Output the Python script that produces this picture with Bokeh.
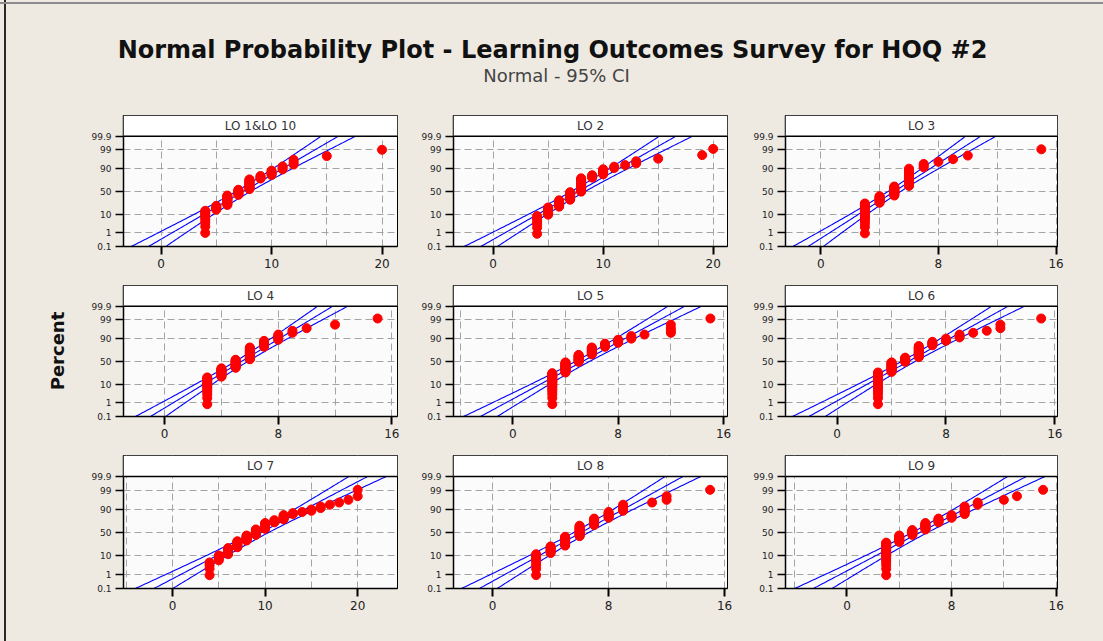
import math
from statistics import NormalDist

from bokeh.plotting import figure
from bokeh.layouts import column, row
from bokeh.models import FixedTicker, Label, Span, BoxAnnotation, Range1d
from bokeh.embed import file_html
from bokeh.resources import INLINE

# ---------------- data ----------------
main_title = "Normal Probability Plot - Learning Outcomes Survey for HOQ #2"
sub_title = "Normal - 95% CI"
y_title = "Percent"

panel_titles = ["LO 1&LO 10", "LO 2", "LO 3", "LO 4", "LO 5", "LO 6", "LO 7", "LO 8", "LO 9"]

lo1_10_values = [4, 5, 6, 7, 8, 9, 10, 11, 12, 15, 20]
lo1_10_counts = [10, 5, 14, 9, 15, 4, 5, 3, 3, 1, 1]
lo2_values = [4, 5, 6, 7, 8, 9, 10, 11, 12, 13, 15, 19, 20]
lo2_counts = [7, 8, 10, 14, 23, 4, 6, 2, 1, 2, 1, 1, 1]
lo3_values = [3, 4, 5, 6, 7, 8, 9, 10, 15]
lo3_counts = [19, 11, 16, 22, 3, 1, 1, 1, 1]
lo4_values = [3, 4, 5, 6, 7, 8, 9, 10, 12, 15]
lo4_counts = [16, 14, 16, 21, 8, 5, 2, 1, 1, 1]
lo5_values = [3, 4, 5, 6, 7, 8, 9, 10, 12, 15]
lo5_counts = [22, 19, 14, 12, 5, 4, 3, 1, 4, 1]
lo6_values = [3, 4, 5, 6, 7, 8, 9, 10, 11, 12, 15]
lo6_counts = [23, 18, 9, 19, 5, 3, 3, 1, 1, 2, 1]
lo7_values = [4, 5, 6, 7, 8, 9, 10, 11, 12, 13, 14, 15, 16, 17, 18, 19, 20]
lo7_counts = [4, 4, 7, 9, 9, 10, 10, 4, 6, 2, 1, 2, 2, 1, 1, 1, 2]
lo8_values = [3, 4, 5, 6, 7, 8, 9, 11, 12, 15]
lo8_counts = [9, 8, 14, 18, 10, 7, 5, 1, 2, 1]
lo9_values = [3, 4, 5, 6, 7, 8, 9, 10, 12, 13, 15]
lo9_counts = [22, 11, 9, 11, 6, 4, 7, 2, 1, 1, 1]

x_ranges = [(-3.4, 21.4), (-3.6, 21.3), (-2.4, 16.1),
            (-2.9, 16.4), (-4.5, 16.3), (-3.8, 16.2),
            (-5.3, 24.3), (-2.7, 16.2), (-4.7, 16.1)]
x_label_ticks = [[0, 10, 20], [0, 10, 20], [0, 8, 16],
                 [0, 8, 16], [0, 8, 16], [0, 8, 16],
                 [0, 10, 20], [0, 8, 16], [0, 8, 16]]
x_grid_ticks = [[-5, 0, 5, 10, 15, 20], [-5, 0, 5, 10, 15, 20], [-4, 0, 4, 8, 12, 16],
                [-4, 0, 4, 8, 12, 16], [-4, 0, 4, 8, 12, 16], [-4, 0, 4, 8, 12, 16],
                [-5, 0, 5, 10, 15, 20], [-4, 0, 4, 8, 12, 16], [-4, 0, 4, 8, 12, 16]]

percent_ticks = [0.1, 1, 10, 50, 90, 99, 99.9]
percent_labels = ["0.1", "1", "10", "50", "90", "99", "99.9"]

panel_values = [lo1_10_values, lo2_values, lo3_values, lo4_values, lo5_values,
                lo6_values, lo7_values, lo8_values, lo9_values]
panel_counts = [lo1_10_counts, lo2_counts, lo3_counts, lo4_counts, lo5_counts,
                lo6_counts, lo7_counts, lo8_counts, lo9_counts]

# ---------------- style ----------------
BEIGE = "#EEEAE2"
PLOTBG = "#FBFBFB"
FONT = "DejaVu Sans"
nd = NormalDist()

z_lo = nd.inv_cdf(0.001)
z_hi = nd.inv_cdf(0.999)
HEADER_PX = 21
PLOT_PX = 112
y_top = z_hi + HEADER_PX * (z_hi - z_lo) / PLOT_PX

col_borders = [(123, 8, 405), (48, 8, 330), (50, 46, 368)]    # left, right, width
row_borders = [(15, 22, 170), (15, 22, 170), (15, 53, 201)]   # top, bottom, height


def make_panel(i):
    r, c = divmod(i, 3)
    left, right, width = col_borders[c]
    top, bottom, height = row_borders[r]
    values, counts = panel_values[i], panel_counts[i]
    n = sum(counts)
    data = []
    for v, k in zip(values, counts):
        data += [v] * k
    zs = [nd.inv_cdf((j - 0.3) / (n + 0.4)) for j in range(1, n + 1)]
    mu = sum(data) / n
    sigma = math.sqrt(sum((d - mu) ** 2 for d in data) / n)

    xr = x_ranges[i]
    p = figure(width=width, height=height, x_range=Range1d(*xr),
               y_range=Range1d(z_lo, y_top), toolbar_location=None,
               output_backend="svg", min_border_left=left, min_border_right=right,
               min_border_top=top, min_border_bottom=bottom)
    p.background_fill_color = PLOTBG
    p.border_fill_alpha = 0
    p.outline_line_color = "black"
    p.outline_line_width = 1

    yt = [nd.inv_cdf(v / 100.0) for v in percent_ticks]
    p.yaxis.ticker = FixedTicker(ticks=yt)
    p.yaxis.major_label_overrides = {t: l for t, l in zip(yt, percent_labels)}
    p.ygrid.ticker = FixedTicker(ticks=yt)
    p.xaxis.ticker = FixedTicker(ticks=x_label_ticks[i])
    p.xgrid.ticker = FixedTicker(ticks=x_grid_ticks[i])

    p.grid.grid_line_color = "#A4A4A4"
    p.grid.grid_line_dash = "7 4"
    p.grid.grid_line_width = 1

    for ax in (p.xaxis, p.yaxis):
        ax.axis_line_color = "black"
        ax.axis_line_width = 1.5
        ax.major_tick_line_color = "black"
        ax.major_tick_out = 8
        ax.major_tick_in = 0
        ax.minor_tick_line_color = None
        ax.major_label_text_font = FONT
        ax.major_label_text_color = "#222222"
        ax.major_label_standoff = 4
    p.xaxis.major_tick_line_width = 2
    p.yaxis.major_tick_line_width = 1.5
    p.xaxis.major_label_text_font_size = "12px"
    p.yaxis.major_label_text_font_size = "9px"

    if i == 3:
        p.yaxis.axis_label = y_title
        p.yaxis.axis_label_text_font = FONT
        p.yaxis.axis_label_text_font_size = "18px"
        p.yaxis.axis_label_text_font_style = "bold"
        p.yaxis.axis_label_text_color = "#111111"
        p.yaxis.axis_label_standoff = 20

    # fitted line and 95% confidence bands
    m = 120
    zg = [z_lo + (z_hi - z_lo) * k / m for k in range(m + 1)]
    fit = [mu + sigma * z for z in zg]
    half = [1.959964 * sigma * math.sqrt(1.0 / n + z * z / (2.0 * n)) for z in zg]
    lo_b = [f - h for f, h in zip(fit, half)]
    hi_b = [f + h for f, h in zip(fit, half)]
    for xs in (fit, lo_b, hi_b):
        p.line(xs, zg, line_color="#0000FF", line_width=1.1)

    p.scatter(data, zs, size=9, marker="circle", fill_color="#FF0000",
              line_color="#FF0000")

    # header strip with panel title
    p.add_layout(BoxAnnotation(bottom=z_hi, fill_color="white", fill_alpha=1.0,
                               line_color=None))
    p.add_layout(Span(location=z_hi, dimension="width", line_color="black",
                      line_width=1.5))
    p.add_layout(Label(x=(xr[0] + xr[1]) / 2.0, y=(z_hi + y_top) / 2.0,
                       text=panel_titles[i], text_align="center",
                       text_baseline="middle", text_font=FONT,
                       text_font_size="12px", text_color="#333333"))
    return p


panels = [make_panel(i) for i in range(9)]

hdr = figure(width=1103, height=100, x_range=Range1d(0, 1103), y_range=Range1d(0, 100),
             toolbar_location=None, output_backend="svg", min_border=0,
             x_axis_location=None, y_axis_location=None)
hdr.grid.visible = False
hdr.outline_line_color = None
hdr.background_fill_alpha = 0
hdr.border_fill_alpha = 0
hdr.add_layout(Label(x=552, y=51, text=main_title, text_align="center",
                     text_baseline="alphabetic", text_font=FONT,
                     text_font_size="24px", text_font_style="bold",
                     text_color="#111111"))
hdr.add_layout(Label(x=556, y=25, text=sub_title, text_align="center",
                     text_baseline="alphabetic", text_font=FONT,
                     text_font_size="18px", text_color="#444444"))

page_css = (":host { background: "
            "linear-gradient(to bottom, transparent 2px, #8C8C8C 2px, #8C8C8C 4px, transparent 4px), "
            "linear-gradient(to right, transparent 4px, #2A2A2A 4px, #2A2A2A 6px, transparent 6px), "
            "%s; }" % BEIGE)
layout = column(hdr,
                row(*panels[0:3]),
                row(*panels[3:6]),
                row(*panels[6:9]),
                stylesheets=[page_css])

with open("out.html", "w") as f:
    f.write(file_html(layout, INLINE))
